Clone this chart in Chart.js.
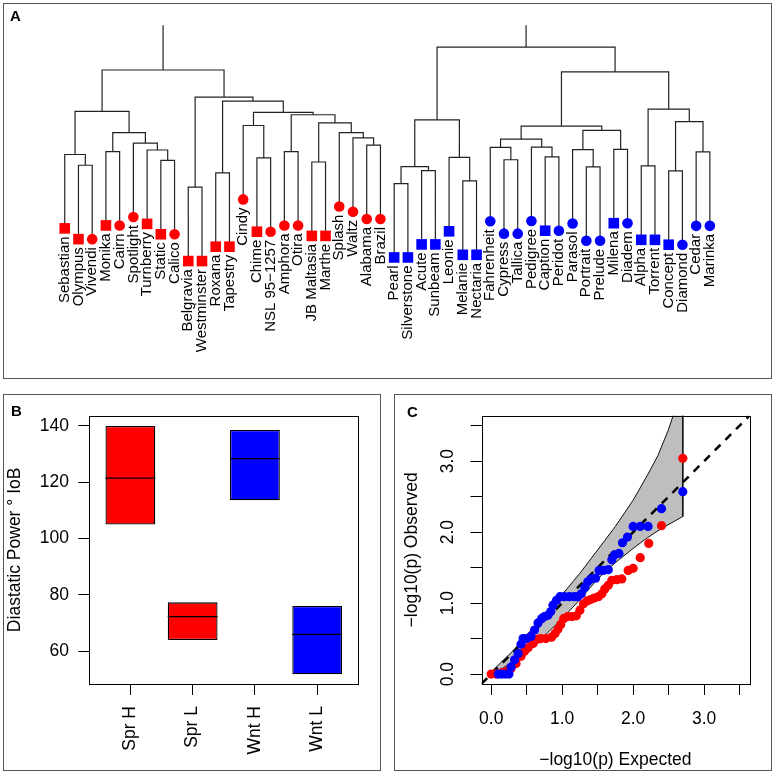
<!DOCTYPE html>
<html>
<head>
<meta charset="utf-8">
<script src="https://cdn.jsdelivr.net/npm/chart.js@4.4.1/dist/chart.umd.min.js"></script>
<style>
  body { margin: 0; background: #fff; width: 774px; height: 774px; position: relative; overflow: hidden; font-family: "Liberation Sans", Arial, sans-serif; }
  .panel { position: absolute; border: 1px solid #555; box-sizing: border-box; }
  .panel canvas { position: absolute; left: 0; top: 0; }
  .tag { position: absolute; font-weight: bold; font-size: 15px; line-height: 15px; color: #000; }
</style>
</head>
<body>
<div class="panel" style="left:3px;top:3px;width:769px;height:376px"><canvas id="ca" width="767" height="374"></canvas></div>
<div class="panel" style="left:3px;top:394px;width:378px;height:377px"><canvas id="cb" width="376" height="375"></canvas></div>
<div class="panel" style="left:394px;top:394px;width:378px;height:377px"><canvas id="cc" width="376" height="375"></canvas></div>
<div class="tag" style="left:10px;top:8px">A</div>
<div class="tag" style="left:11px;top:403px">B</div>
<div class="tag" style="left:407px;top:404px">C</div>
<script>
// ---- panel A : dendrogram ----
const LEAVES = ['Sebastian','Olympus','Vivendi','Monika','Cairn','Spotlight','Turnberry','Static','Calico',
  'Belgravia','Westminster','Roxana','Tapestry','Cindy','Chime','NSL 95\u22121257','Amphora','Otira',
  'JB Maltasia','Marthe','Splash','Waltz','Alabama','Brazil',
  'Pearl','Silverstone','Acute','Sunbeam','Leonie','Melanie','Nectaria','Fahrenheit','Cypress','Tallica',
  'Pedigree','Caption','Peridot','Parasol','Portrait','Prelude','Milena','Diadem','Alpha','Torrent',
  'Concept','Diamond','Cedar','Marinka'];
const LEAF_SEASON = ['S','S','S','S','S','S','S','S','S','S','S','S','S','S','S','S','S','S','S','S','S','S','S','S',
  'W','W','W','W','W','W','W','W','W','W','W','W','W','W','W','W','W','W','W','W','W','W','W','W'];
const LEAF_SHAPE = ['sq','sq','ci','sq','ci','ci','sq','sq','ci','sq','sq','sq','sq','ci','sq','ci','ci','ci',
  'sq','sq','ci','ci','ci','ci',
  'sq','sq','sq','sq','sq','sq','sq','ci','ci','ci','ci','sq','ci','ci','ci','ci','sq','ci','sq','sq',
  'sq','ci','ci','ci'];
// merge table like hclust: negative = leaf number, positive = earlier row
const MERGES = [
  [-2, -3, 1.117], [-1, 1, 1.227], [-8, -9, 1.167], [-7, 3, 1.273], [-6, 4, 1.343], [-4, -5, 1.257],
  [6, 5, 1.45], [2, 7, 1.667], [-10, -11, 0.893], [-12, -13, 1.04], [-15, -16, 1.193], [-14, 11, 1.523],
  [-17, -18, 1.257], [-19, -20, 1.15], [-23, -24, 1.323], [-22, 15, 1.397], [-21, 16, 1.45], [14, 17, 1.55],
  [13, 18, 1.633], [12, 19, 1.657], [10, 20, 1.773], [9, 21, 1.813], [8, 22, 2.09],
  [-25, -26, 0.93], [-27, -28, 1.063], [24, 25, 1.103], [-30, -31, 0.957], [-29, 27, 1.197], [26, 28, 1.58],
  [-33, -34, 1.173], [-32, 30, 1.30], [-36, -37, 1.203], [-35, 32, 1.303], [31, 33, 1.383],
  [-39, -40, 1.10], [-38, 35, 1.277], [-41, -42, 1.28], [36, 37, 1.473], [34, 38, 1.517],
  [-43, -44, 1.11], [-45, -46, 1.06], [-47, -48, 1.253], [41, 42, 1.563], [40, 43, 1.69],
  [39, 44, 2.07], [29, 45, 2.323], [23, 46, 2.557]
];
const HANG = 0.755;

// ---- panel B : boxes ----
const B_CATS = ['Spr H', 'Spr L', 'Wnt H', 'Wnt L'];
const B_LOW = [105, 63.9, 113.6, 51.7];
const B_HIGH = [140, 77.3, 138.6, 76];
const B_MED = [121.5, 72.2, 128.4, 65.9];
const B_TICKS = [60, 80, 100, 120, 140];

// ---- panel C : QQ plot ----
const RED_X = [0, 0.07, 0.15, 0.22, 0.28, 0.35, 0.42, 0.47, 0.52, 0.59, 0.65, 0.7, 0.77, 0.85, 0.9, 0.94, 0.98,
  1.02, 1.08, 1.14, 1.2, 1.25, 1.3, 1.35, 1.4, 1.45, 1.51, 1.56, 1.6, 1.65, 1.7, 1.77, 1.84, 1.93, 2.0, 2.1,
  2.22, 2.4, 2.7];
const RED_Y = [0, 0, 0.02, 0.04, 0.08, 0.15, 0.25, 0.32, 0.37, 0.43, 0.49, 0.5, 0.5, 0.52, 0.57, 0.63, 0.7,
  0.78, 0.81, 0.81, 0.82, 0.9, 0.99, 1.03, 1.05, 1.07, 1.09, 1.13, 1.2, 1.25, 1.32, 1.33, 1.34, 1.46, 1.49, 1.64,
  1.84, 2.09, 3.04];
const BLUE_X = [0.1, 0.15, 0.2, 0.25, 0.28, 0.33, 0.38, 0.42, 0.45, 0.5, 0.56, 0.61, 0.66, 0.71, 0.75, 0.8, 0.84,
  0.87, 0.92, 0.97, 1.03, 1.1, 1.17, 1.22, 1.27, 1.32, 1.36, 1.41, 1.47, 1.52, 1.58, 1.65, 1.7, 1.74, 1.8, 1.85,
  1.92, 2.0, 2.1, 2.21, 2.4, 2.7];
const BLUE_Y = [0, 0, 0, 0, 0.1, 0.2, 0.29, 0.42, 0.5, 0.5, 0.53, 0.62, 0.72, 0.78, 0.81, 0.83, 0.88,
  0.97, 1.04, 1.09, 1.09, 1.09, 1.09, 1.09, 1.13, 1.22, 1.3, 1.34, 1.35, 1.46, 1.46, 1.47, 1.61, 1.68, 1.7, 1.85,
  1.93, 2.08, 2.08, 2.08, 2.33, 2.57];
const BAND_UP_X = [0.03, 0.3, 0.5, 0.75, 1.0, 1.25, 1.5, 1.75, 2.0, 2.2, 2.35, 2.5, 2.6, 2.7];
const BAND_UP_Y = [0.06, 0.32, 0.55, 0.83, 1.12, 1.42, 1.75, 2.08, 2.45, 2.8, 3.08, 3.45, 3.75, 4.1];
const BAND_LO_X = [2.7, 2.4, 2.2, 2.0, 1.75, 1.5, 1.25, 1.0, 0.75, 0.5, 0.3, 0.03];
const BAND_LO_Y = [2.22, 2.05, 1.92, 1.77, 1.57, 1.34, 1.05, 0.78, 0.54, 0.33, 0.17, 0.0];
const C_TICKS = [0, 0.5, 1, 1.5, 2, 2.5, 3, 3.5];
const C_TICK_LABELS = ['0.0', '', '1.0', '', '2.0', '', '3.0', ''];

Chart.defaults.font.family = '"Liberation Sans", Arial, sans-serif';
Chart.defaults.color = '#000';

const base = {
  responsive: false, animation: false, events: [],
  plugins: { legend: { display: false }, tooltip: { enabled: false } }
};

// build dendrogram segments
const nodeX = [], nodeH = [], leafEnd = [];
function childPos(c, h) {
  if (c < 0) { leafEnd[-c - 1] = h - HANG; return [-c, h - HANG]; }
  return [nodeX[c - 1], nodeH[c - 1]];
}
const segs = [];
MERGES.forEach(([a, b, h], k) => {
  const [xa, ya] = childPos(a, h);
  const [xb, yb] = childPos(b, h);
  segs.push({x: xa, y: ya}, {x: xa, y: h}, {x: xb, y: h}, {x: xb, y: yb}, {x: xb, y: null});
  nodeX[k] = (xa + xb) / 2;
  nodeH[k] = h;
});
const ROOT_H = MERGES[MERGES.length - 1][2];

const leafLabels = {
  id: 'leafLabels',
  afterDatasetsDraw(chart) {
    const {ctx, scales: {x, y}} = chart;
    ctx.save();
    ctx.fillStyle = '#000';
    ctx.font = '15px "Liberation Sans", Arial, sans-serif';
    ctx.textAlign = 'right';
    ctx.textBaseline = 'middle';
    LEAVES.forEach((name, i) => {
      ctx.save();
      ctx.translate(x.getPixelForValue(i + 1), y.getPixelForValue(leafEnd[i]) + 8);
      ctx.rotate(-Math.PI / 2);
      ctx.fillText(name, 0, 0);
      ctx.restore();
    });
    ctx.restore();
  }
};

new Chart(document.getElementById('ca'), {
  type: 'scatter',
  data: {
    datasets: [
      {
        data: LEAVES.map((n, i) => ({x: i + 1, y: leafEnd[i]})),
        pointStyle: LEAF_SHAPE.map(s => s === 'sq' ? 'rect' : 'circle'),
        pointRadius: LEAF_SHAPE.map(s => s === 'sq' ? 7.5 : 5.3),
        pointBackgroundColor: LEAF_SEASON.map(s => s === 'S' ? '#ff0000' : '#0000ff'),
        pointBorderWidth: 0,
        clip: false
      },
      {
        data: segs, showLine: true, borderColor: '#222', borderWidth: 1.2, pointRadius: 0,
        clip: {left: 0, top: -1, right: 0, bottom: 0}
      }
    ]
  },
  options: {
    ...base,
    layout: { padding: { top: 20.3 } },
    scales: {
      x: { display: false, min: -2.879, max: 51.907 },
      y: { display: false, min: -0.98, max: ROOT_H }
    }
  },
  plugins: [leafLabels]
});

// ---- panel B ----
const frame = {
  id: 'frame',
  afterDatasetsDraw(chart) {
    const {ctx, chartArea: a} = chart;
    ctx.save();
    ctx.strokeStyle = '#000';
    ctx.lineWidth = 1;
    ctx.strokeRect(Math.round(a.left) + 0.5, Math.round(a.top) + 0.5,
      Math.round(a.right - a.left), Math.round(a.bottom - a.top));
    ctx.restore();
  }
};
const medians = {
  id: 'medians',
  afterDatasetsDraw(chart) {
    const {ctx, scales: {y}} = chart;
    ctx.save();
    ctx.strokeStyle = '#000';
    ctx.lineWidth = 1.3;
    chart.getDatasetMeta(0).data.forEach((bar, i) => {
      const py = y.getPixelForValue(B_MED[i]);
      ctx.beginPath();
      ctx.moveTo(bar.x - bar.width / 2, py);
      ctx.lineTo(bar.x + bar.width / 2, py);
      ctx.stroke();
    });
    ctx.restore();
  }
};
const tickGrid = { drawOnChartArea: false, drawTicks: true, tickLength: 11, color: '#000', offset: false };
const tickFont = { size: 17.5 };
const titleFont = { size: 17.5, lineHeight: 1 };

new Chart(document.getElementById('cb'), {
  type: 'bar',
  data: {
    datasets: [{
      data: B_CATS.map((c, i) => ({x: i + 1, y: [B_LOW[i], B_HIGH[i]]})),
      backgroundColor: ['#ff0000', '#ff0000', '#0000ff', '#0000ff'],
      borderColor: '#000', borderWidth: 1.3, borderSkipped: false,
      barPercentage: 0.8, categoryPercentage: 1
    }]
  },
  options: {
    ...base,
    layout: { padding: { top: 20.7, right: 21.7 } },
    scales: {
      x: {
        type: 'linear', min: 0.34, max: 4.66, offset: false, bounds: 'data',
        afterFit: s => { s.height = 86; },
        afterBuildTicks: s => { s.ticks = B_CATS.map((c, i) => ({value: i + 1})); },
        ticks: { callback: v => B_CATS[v - 1], minRotation: 90, maxRotation: 90, autoSkip: false, padding: 11, font: tickFont },
        grid: tickGrid, border: { display: false }
      },
      y: {
        min: 48.27, max: 143.66, bounds: 'data',
        afterFit: s => { s.width = 85.3; },
        afterBuildTicks: s => { s.ticks = B_TICKS.map(v => ({value: v})); },
        ticks: { padding: 9.4, font: tickFont, autoSkip: false },
        grid: tickGrid, border: { display: false },
        title: { display: true, text: 'Diastatic Power \u00b0 IoB', font: titleFont, padding: { top: 2, bottom: 0 } }
      }
    }
  },
  plugins: [frame, medians]
});

// ---- panel C ----
const pts = (xs, ys) => xs.map((x, i) => ({x, y: ys[i]}));
const band = pts(BAND_UP_X, BAND_UP_Y).concat(pts(BAND_LO_X, BAND_LO_Y));
const C_MIN = -0.137, C_MAX = 3.637;

new Chart(document.getElementById('cc'), {
  type: 'scatter',
  data: {
    datasets: [
      { data: pts(BLUE_X, BLUE_Y), backgroundColor: '#0000ff', pointRadius: 4.6, pointBorderWidth: 0 },
      { data: pts(RED_X, RED_Y), backgroundColor: '#ff0000', pointRadius: 4.6, pointBorderWidth: 0 },
      { data: [{x: C_MIN, y: C_MIN}, {x: C_MAX, y: C_MAX}], showLine: true, borderColor: '#000',
        borderWidth: 2.5, borderDash: [8, 7], pointRadius: 0 },
      { data: band, showLine: true, fill: 'shape', backgroundColor: '#bebebe', borderColor: '#111',
        borderWidth: 1, pointRadius: 0 }
    ]
  },
  options: {
    ...base,
    layout: { padding: { top: 20.7, right: 21.7, bottom: 0 } },
    scales: {
      x: {
        min: C_MIN, max: C_MAX, bounds: 'data',
        afterFit: s => { s.height = 86; },
        afterBuildTicks: s => { s.ticks = C_TICKS.map(v => ({value: v})); },
        ticks: { callback: (v, i) => C_TICK_LABELS[i], maxRotation: 0, autoSkip: false, padding: 13.5, font: tickFont },
        grid: tickGrid, border: { display: false },
        title: { display: true, text: '\u2212log10(p) Expected', font: titleFont, padding: { top: 0, bottom: 1.25 } }
      },
      y: {
        min: -0.14, max: 3.64, bounds: 'data',
        afterFit: s => { s.width = 86.5; },
        afterBuildTicks: s => { s.ticks = C_TICKS.map(v => ({value: v})); },
        ticks: { callback: (v, i) => C_TICK_LABELS[i], minRotation: 90, maxRotation: 90, crossAlign: 'center',
          autoSkip: false, padding: 10, font: tickFont },
        grid: tickGrid, border: { display: false },
        title: { display: true, text: '\u2212log10(p) Observed', font: titleFont, padding: { top: 8, bottom: 0 } }
      }
    }
  },
  plugins: [frame]
});
</script>
</body>
</html>
